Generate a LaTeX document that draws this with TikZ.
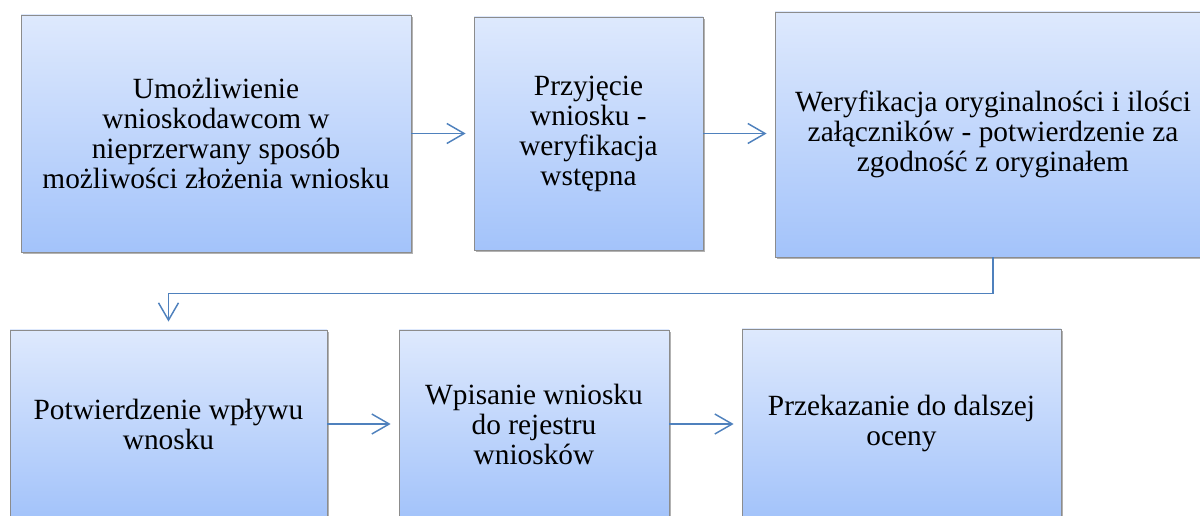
\documentclass[tikz,border=0pt]{standalone}
\usepackage{fontspec}
\setmainfont{Liberation Serif}
\usetikzlibrary{arrows.meta,shadows}

\definecolor{boxtop}{RGB}{222,233,253}
\definecolor{boxbottom}{RGB}{163,195,250}
\definecolor{boxline}{RGB}{140,140,140}
\definecolor{linkblue}{RGB}{79,129,189}

\tikzset{
	stepbox/.style={draw=boxline, line width=0.6pt, top color=boxtop, bottom color=boxbottom,
		align=center, inner sep=0pt, font=\fontsize{22}{22.5}\selectfont,
		drop shadow={shadow xshift=1.2pt, shadow yshift=-1.8pt, opacity=0.3, fill=black}},
	link/.style={draw=linkblue, line width=1.1pt, -{Straight Barb[length=13pt,width=15pt]}, shorten >=6pt}
}

\begin{document}
\begin{tikzpicture}[x=0.75pt, y=-0.75pt]

	\path[use as bounding box, clip] (0,0) rectangle (1200,516);

	% first row
	\node[stepbox, minimum width=292.5pt, minimum height=177.75pt] (wniosek) at (216,133.5)
		{Umożliwienie\\wnioskodawcom w\\nieprzerwany sposób\\możliwości złożenia wniosku};
	\node[stepbox, minimum width=171.75pt, minimum height=174.75pt] (przyjecie) at (588.5,133.5)
		{Przyjęcie\\wniosku -\\weryfikacja\\wstępna};
	\node[stepbox, minimum width=327pt, minimum height=183.75pt] (weryfikacja) at (993,134.5)
		{Weryfikacja oryginalności i ilości\\załączników - potwierdzenie za\\zgodność z oryginałem};

	% second row
	\node[stepbox, minimum width=237.75pt, minimum height=141pt] (wplyw) at (168.5,424)
		{Potwierdzenie wpływu\\wnosku};
	\node[stepbox, minimum width=202.5pt, minimum height=141pt] (rejestr) at (534,424)
		{Wpisanie wniosku\\do rejestru\\wniosków};
	\node[stepbox, minimum width=239.25pt, minimum height=141.75pt] (ocena) at (901.5,423.5)
		{Przekazanie do dalszej\\oceny};

	\draw[link] (wniosek) -- (przyjecie);
	\draw[link] (przyjecie) -- (weryfikacja.west |- przyjecie);
	\draw[link] (weryfikacja.south) -- ++(0,36) -| (wplyw.north);
	\draw[link] (wplyw) -- (rejestr);
	\draw[link] (rejestr) -- (ocena.west |- rejestr);

\end{tikzpicture}
\end{document}
